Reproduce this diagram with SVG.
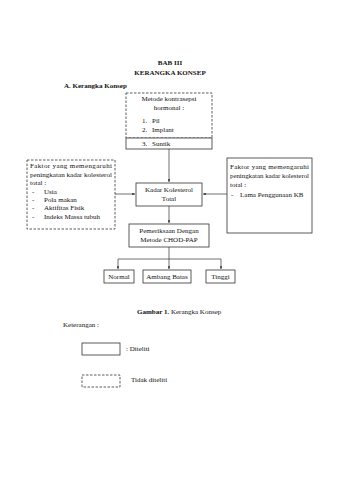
<svg xmlns="http://www.w3.org/2000/svg" width="339" height="480" viewBox="0 0 339 480">
<style>
text{font-family:"Liberation Serif","Times New Roman",serif;font-size:7px;fill:#111}
.b{font-weight:bold}
.c{text-anchor:middle}
.box{fill:#fff;stroke:#333;stroke-width:0.8}
.dash{fill:#fff;stroke:#333;stroke-width:0.8;stroke-dasharray:2.5 1.5}
.ln{fill:none;stroke:#333;stroke-width:0.7}
</style>
<defs>
<marker id="ah" viewBox="0 0 6 6" refX="6" refY="3" markerWidth="4" markerHeight="4" orient="auto">
<path d="M0,0 L6,3 L0,6 z" fill="#333"/>
</marker>
</defs>
<rect width="339" height="480" fill="#fff"/>
<text class="b c" x="170" y="65">BAB III</text>
<text class="b c" x="170" y="75">KERANGKA KONSEP</text>
<text class="b" x="64" y="88">A. Kerangka Konsep</text>

<g id="connectors">
<path class="ln" d="M169,149 V182" marker-end="url(#ah)"/>
<path class="ln" d="M115,194 H135" marker-end="url(#ah)"/>
<path class="ln" d="M227,194 H203" marker-end="url(#ah)"/>
<path class="ln" d="M169,206 V223" marker-end="url(#ah)"/>
<path class="ln" d="M169,247 V259"/>
<path class="ln" d="M118,259 H221"/>
<path class="ln" d="M118,259 V269" marker-end="url(#ah)"/>
<path class="ln" d="M169,259 V269" marker-end="url(#ah)"/>
<path class="ln" d="M221,259 V269" marker-end="url(#ah)"/>
</g>

<g id="metode">
<rect class="dash" x="126" y="93" width="86" height="45"/>
<rect class="box" x="126" y="138" width="86" height="11"/>
<text class="c" x="169" y="101">Metode kontrasepsi</text>
<text class="c" x="169" y="110">hormonal :</text>
<text x="142" y="123">1.</text><text x="152" y="123">Pil</text>
<text x="142" y="132">2.</text><text x="152" y="132">Implant</text>
<text x="142" y="146">3.</text><text x="152" y="146">Suntik</text>
</g>

<g id="faktor-kiri">
<rect class="dash" x="27" y="160" width="88" height="69"/>
<text x="30" y="168" textLength="82" lengthAdjust="spacing">Faktor yang memengaruhi</text>
<text x="30" y="177" textLength="82" lengthAdjust="spacingAndGlyphs">peningkatan kadar kolesterol</text>
<text x="30" y="185">total :</text>
<text x="32" y="194">-</text><text x="44" y="194">Usia</text>
<text x="32" y="202">-</text><text x="44" y="202">Pola makan</text>
<text x="32" y="210">-</text><text x="44" y="210">Aktifitas Fisik</text>
<text x="32" y="219">-</text><text x="44" y="219">Indeks Massa tubuh</text>
</g>

<g id="faktor-kanan">
<rect class="box" x="227" y="158" width="85" height="75"/>
<text x="230" y="169" textLength="79" lengthAdjust="spacing">Faktor yang memengaruhi</text>
<text x="230" y="178" textLength="79" lengthAdjust="spacingAndGlyphs">peningkatan kadar kolesterol</text>
<text x="230" y="187">total :</text>
<text x="231" y="197">-</text><text x="240" y="197">Lama Penggunaan KB</text>
</g>

<g id="kadar">
<rect class="box" x="136" y="183" width="66" height="23"/>
<text class="c" x="169" y="192">Kadar Kolesterol</text>
<text class="c" x="169" y="201">Total</text>
</g>

<g id="pemeriksaan">
<rect class="box" x="129" y="224" width="80" height="23"/>
<text class="c" x="169" y="233">Pemeriksaan Dengan</text>
<text class="c" x="169" y="242">Metode CHOD-PAP</text>
</g>

<g id="normal">
<rect class="box" x="104" y="270" width="30" height="13"/>
<text class="c" x="119" y="279">Normal</text>
</g>
<g id="ambang">
<rect class="box" x="143" y="270" width="48" height="13"/>
<text class="c" x="167" y="279">Ambang Batas</text>
</g>
<g id="tinggi">
<rect class="box" x="206" y="270" width="29" height="13"/>
<text class="c" x="220.5" y="279">Tinggi</text>
</g>

<text x="137" y="314"><tspan class="b">Gambar 1.</tspan> Kerangka Konsep</text>
<text x="63" y="327">Keterangan :</text>

<g id="legend-diteliti">
<rect class="box" x="82" y="343" width="38" height="12"/>
<text x="126" y="351">: Diteliti</text>
</g>
<g id="legend-tidak">
<rect class="dash" x="82" y="375" width="38" height="12"/>
<text x="131" y="382">Tidak diteliti</text>
</g>
</svg>
